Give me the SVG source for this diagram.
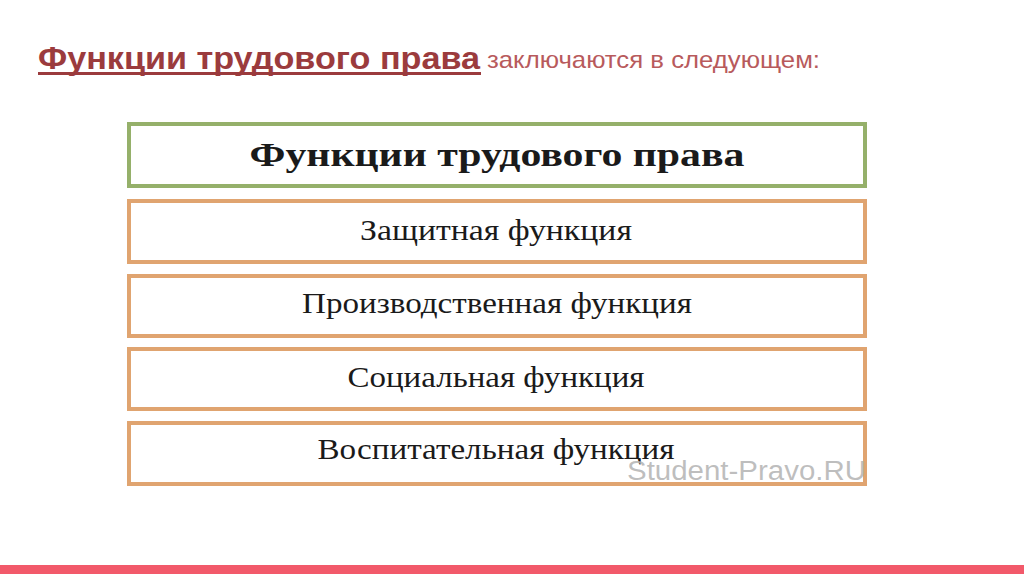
<svg xmlns="http://www.w3.org/2000/svg" width="1024" height="574" viewBox="0 0 1024 574">
<style>
.hd{font-family:"Liberation Serif",serif;font-weight:bold;font-size:33px;fill:#1a1a1a;text-anchor:middle}
.it{font-family:"Liberation Serif",serif;font-size:29px;fill:#1a1a1a;text-anchor:middle}
.ob{fill:#fff;stroke:#e0a470;stroke-width:4}
</style>
<rect width="1024" height="574" fill="#fff"/>
<g id="title">
<text x="38" y="69" font-family="Liberation Sans, sans-serif" font-weight="bold" font-size="31" fill="#9b3b3d" textLength="442" lengthAdjust="spacingAndGlyphs">Функции трудового права</text>
<rect x="38" y="72" width="443" height="3" fill="#9b3b3d"/>
<text x="487" y="68" font-family="Liberation Sans, sans-serif" font-size="24" fill="#b85a5c" textLength="333" lengthAdjust="spacingAndGlyphs">заключаются в следующем:</text>
</g>
<g id="header">
<rect x="129" y="124" width="736" height="62" fill="#fff" stroke="#95b06a" stroke-width="4"/>
<text class="hd" x="497" y="166" textLength="495" lengthAdjust="spacingAndGlyphs">Функции трудового права</text>
</g>
<g id="n1">
<rect class="ob" x="129" y="201" width="736" height="61"/>
<text class="it" x="496" y="240" textLength="272" lengthAdjust="spacingAndGlyphs">Защитная функция</text>
</g>
<g id="n2">
<rect class="ob" x="129" y="276" width="736" height="60"/>
<text class="it" x="497" y="313" textLength="390" lengthAdjust="spacingAndGlyphs">Производственная функция</text>
</g>
<g id="n3">
<rect class="ob" x="129" y="349" width="736" height="60"/>
<text class="it" x="496" y="387" textLength="297" lengthAdjust="spacingAndGlyphs">Социальная функция</text>
</g>
<g id="n4">
<rect class="ob" x="129" y="423" width="736" height="61"/>
<text class="it" x="496" y="459" textLength="357" lengthAdjust="spacingAndGlyphs">Воспитательная функция</text>
<text x="627" y="480" font-family="Liberation Sans, sans-serif" font-size="27" fill="#b3b3b3" fill-opacity="0.85" textLength="239" lengthAdjust="spacingAndGlyphs">Student-Pravo.RU</text>
</g>
<g id="connectors"/>
<rect x="0" y="565" width="1024" height="9" fill="#f2596a"/>
</svg>
